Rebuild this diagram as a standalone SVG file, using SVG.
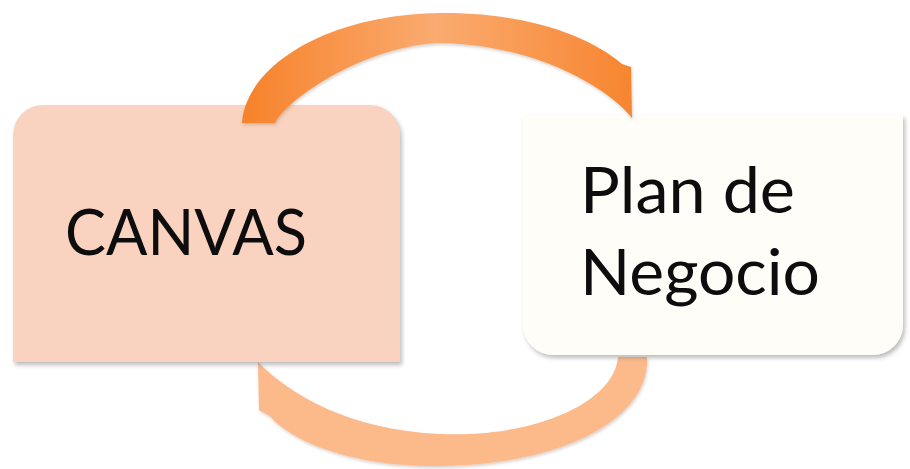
<svg xmlns="http://www.w3.org/2000/svg" width="910" height="469" viewBox="0 0 910 469">
  <defs>
    <filter id="shadow" x="-5%" y="-5%" width="115%" height="120%">
      <feDropShadow dx="2" dy="3" stdDeviation="2" flood-color="#6b6b6b" flood-opacity="0.45"/>
    </filter>
    <filter id="softShadow" x="-5%" y="-5%" width="115%" height="120%">
      <feDropShadow dx="1" dy="2" stdDeviation="1.5" flood-color="#8a6a55" flood-opacity="0.3"/>
    </filter>
    <linearGradient id="topArrowFill" gradientUnits="userSpaceOnUse" x1="242" y1="0" x2="632" y2="0">
      <stop offset="0" stop-color="#F6822A"/>
      <stop offset="0.5" stop-color="#FAAB70"/>
      <stop offset="1" stop-color="#F7852F"/>
    </linearGradient>
    <style>
      .label { font-family: Lato, "Open Sans", "Liberation Sans", sans-serif; font-size: 63px; fill: #0d0d0d; }
    </style>
  </defs>

  <rect width="910" height="469" fill="#ffffff"/>

  <!-- return arrow: from Plan de Negocio back up into CANVAS -->
  <g id="connectors">
    <path id="arrow-bottom" filter="url(#softShadow)" fill="#FCB98A"
          d="M647,357 C650,420 560,465 440,466 C350,467 290,440 270,416 L259,410 L258,362 C290,395 350,430 440,434 C540,438 615,400 618,357 Z"/>
  </g>

  <!-- CANVAS: top corners rounded, bottom corners square -->
  <g id="node-canvas">
    <path filter="url(#shadow)" fill="#F9D3BF"
          d="M13,362 V135 A30,30 0 0 1 43,105 H370 A30,30 0 0 1 400,135 V362 Z"/>
    <text class="label" x="65" y="255" textLength="242" lengthAdjust="spacingAndGlyphs">CANVAS</text>
  </g>

  <!-- Plan de Negocio: top corners square, bottom corners rounded -->
  <g id="node-plan">
    <path filter="url(#shadow)" fill="#FEFDF7"
          d="M523,115 H903 V325 A30,30 0 0 1 873,355 H553 A30,30 0 0 1 523,325 Z"/>
    <text class="label" x="580" y="213" textLength="215" lengthAdjust="spacingAndGlyphs">Plan de</text>
    <text class="label" x="580" y="295" textLength="240" lengthAdjust="spacingAndGlyphs">Negocio</text>
  </g>

  <!-- forward arrow: from CANVAS over the top into Plan de Negocio -->
  <g id="connectors-top">
    <path id="arrow-top" filter="url(#softShadow)" fill="url(#topArrowFill)"
          d="M242,123 C245,70 320,15 440,13 C530,12 592,38 622,64 L631,67 L632,118 C610,90 540,45 440,43 C370,45 290,95 275,123 Z"/>
  </g>
</svg>
